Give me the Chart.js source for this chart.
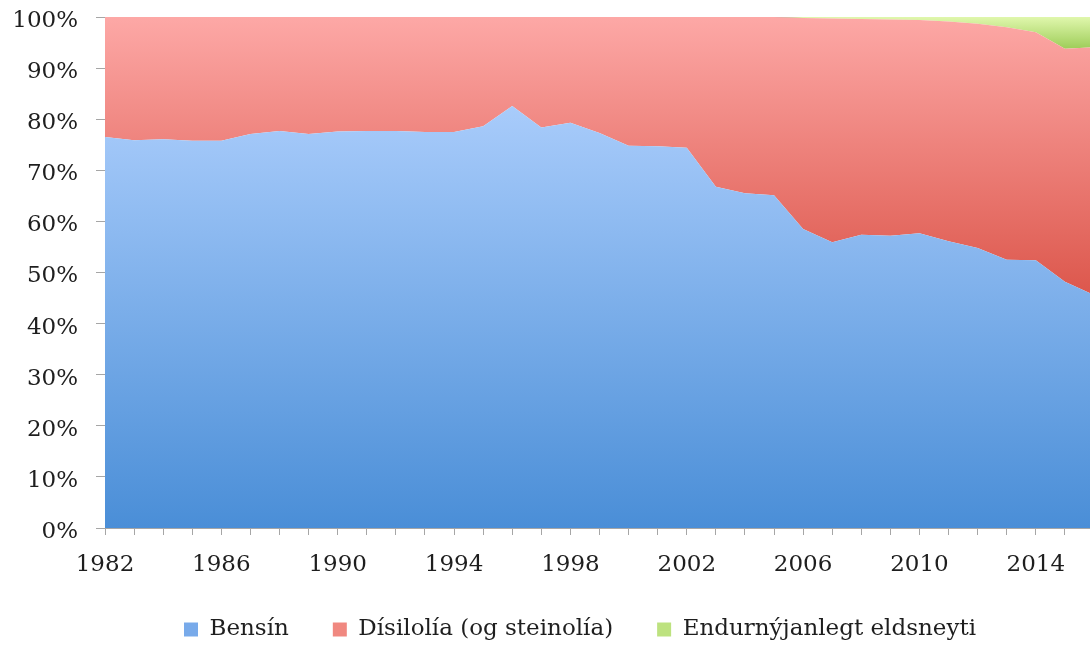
<!DOCTYPE html>
<html>
<head>
<meta charset="utf-8">
<script src="https://cdn.jsdelivr.net/npm/chart.js@4.4.1/dist/chart.umd.min.js"></script>
<style>
html, body { margin: 0; padding: 0; background: #fff; }
#wrap { width: 1090px; height: 648px; overflow: hidden; }
</style>
</head>
<body>
<div id="wrap"><canvas id="fuel_chart" width="1160" height="651"></canvas></div>
<script>
// hlutfall eldsneytis, % af heild
var years = [1982, 1983, 1984, 1985, 1986, 1987, 1988, 1989, 1990, 1991,
             1992, 1993, 1994, 1995, 1996, 1997, 1998, 1999, 2000, 2001,
             2002, 2003, 2004, 2005, 2006, 2007, 2008, 2009, 2010, 2011,
             2012, 2013, 2014, 2015, 2016];
var bensin = [76.5, 75.9, 76.1, 75.8, 75.8, 77.1, 77.7, 77.1, 77.6, 77.7,
              77.7, 77.5, 77.5, 78.6, 82.6, 78.4, 79.3, 77.3, 74.8, 74.7,
              74.4, 66.8, 65.5, 65.1, 58.5, 55.9, 57.4, 57.2, 57.7, 56.1,
              54.8, 52.5, 52.4, 48.2, 45.6];
var disel = [23.5, 24.1, 23.9, 24.2, 24.2, 22.9, 22.3, 22.9, 22.4, 22.3,
             22.3, 22.5, 22.5, 21.4, 17.4, 21.6, 20.7, 22.7, 25.2, 25.3,
             25.6, 33.2, 34.5, 34.9, 41.3, 43.8, 42.2, 42.3, 41.7, 43.0,
             43.9, 45.5, 44.6, 45.6, 48.5];
var endurnyjanlegt = [0, 0, 0, 0, 0, 0, 0, 0, 0, 0,
                      0, 0, 0, 0, 0, 0, 0, 0, 0, 0,
                      0, 0, 0, 0, 0.2, 0.3, 0.4, 0.5, 0.6, 0.9,
                      1.3, 2.0, 3.0, 6.2, 5.9];
var seriesNames = ["Bensín", "Dísilolía (og steinolía)", "Endurnýjanlegt eldsneyti"];
var labelYears = [1982, 1986, 1990, 1994, 1998, 2002, 2006, 2010, 2014];

var font = { family: "'DejaVu Serif', serif", size: 23 };
var textColor = "#1e1e1e";
var axisGrey = "#a6a6a6";

// gradient from value `from` (top) to value `to` (bottom)
function vgrad(from, to, cTop, cBottom) {
    return function(c) {
        var chart = c.chart;
        if (!chart.chartArea) return cBottom;
        var y = chart.scales.y;
        var g = chart.ctx.createLinearGradient(0, y.getPixelForValue(from), 0, y.getPixelForValue(to));
        g.addColorStop(0, cTop);
        g.addColorStop(1, cBottom);
        return g;
    };
}

var legendColors = ["#78aaea", "#f08880", "#bde27f"];

var ctx = document.getElementById('fuel_chart');
var chart = new Chart(ctx, {
    type: 'line',
    data: {
        labels: years,
        datasets: [
            { label: seriesNames[0], data: bensin, fill: 'origin',
              backgroundColor: vgrad(83, 0, "#a9ccfb", "#4a8ed7") },
            { label: seriesNames[1], data: disel, fill: '-1',
              backgroundColor: vgrad(100, 45, "#fda8a6", "#dc564b") },
            { label: seriesNames[2], data: endurnyjanlegt, fill: '-1',
              backgroundColor: vgrad(100, 93.5, "#e0f7ad", "#9bcb55") }
        ]
    },
    options: {
        responsive: false,
        devicePixelRatio: 1,
        animation: false,
        layout: { padding: { top: 17, left: 0, right: 0, bottom: 0 } },
        elements: {
            point: { radius: 0 },
            line: { borderWidth: 0, borderColor: 'rgba(0,0,0,0)', tension: 0 }
        },
        plugins: {
            tooltip: { enabled: false },
            legend: {
                position: 'bottom',
                labels: {
                    font: font,
                    color: textColor,
                    boxWidth: 14,
                    boxHeight: 14,
                    padding: 44,
                    generateLabels: function(chart) {
                        return chart.data.datasets.map(function(ds, i) {
                            return { text: ds.label, fillStyle: legendColors[i], strokeStyle: 'rgba(0,0,0,0)',
                                     lineWidth: 0, datasetIndex: i, fontColor: textColor };
                        });
                    }
                }
            }
        },
        scales: {
            x: {
                type: 'linear',
                min: 1982,
                max: 2016,
                z: 1,
                grid: { drawOnChartArea: false, tickLength: 7, color: axisGrey },
                border: { color: axisGrey, width: 1 },
                ticks: {
                    stepSize: 1,
                    autoSkip: false,
                    maxRotation: 0,
                    padding: 19,
                    font: { family: font.family, size: font.size, lineHeight: 1 },
                    color: textColor,
                    callback: function(v) { return labelYears.indexOf(v) >= 0 ? String(v) : ''; }
                },
                afterFit: function(s) { s.height = 46; s.paddingRight = 66; s.paddingLeft = 0; }
            },
            xTop: {
                type: 'linear',
                position: 'top',
                min: 1982,
                max: 2016,
                z: 1,
                grid: { display: false },
                ticks: { display: false },
                border: { color: axisGrey, width: 1 },
                afterFit: function(s) { s.height = 0; s.paddingRight = 66; s.paddingLeft = 0; }
            },
            y: {
                stacked: true,
                min: 0,
                max: 100,
                z: 1,
                grid: { drawOnChartArea: false, tickLength: 9, color: axisGrey },
                border: { color: axisGrey, width: 1 },
                ticks: {
                    stepSize: 10,
                    padding: 18,
                    labelOffset: 4,
                    font: font,
                    color: textColor,
                    callback: function(v) { return v + '%'; }
                },
                afterFit: function(s) { s.width = 105; s.paddingTop = 0; s.paddingBottom = 0; }
            }
        }
    }
});
</script>
</body>
</html>
